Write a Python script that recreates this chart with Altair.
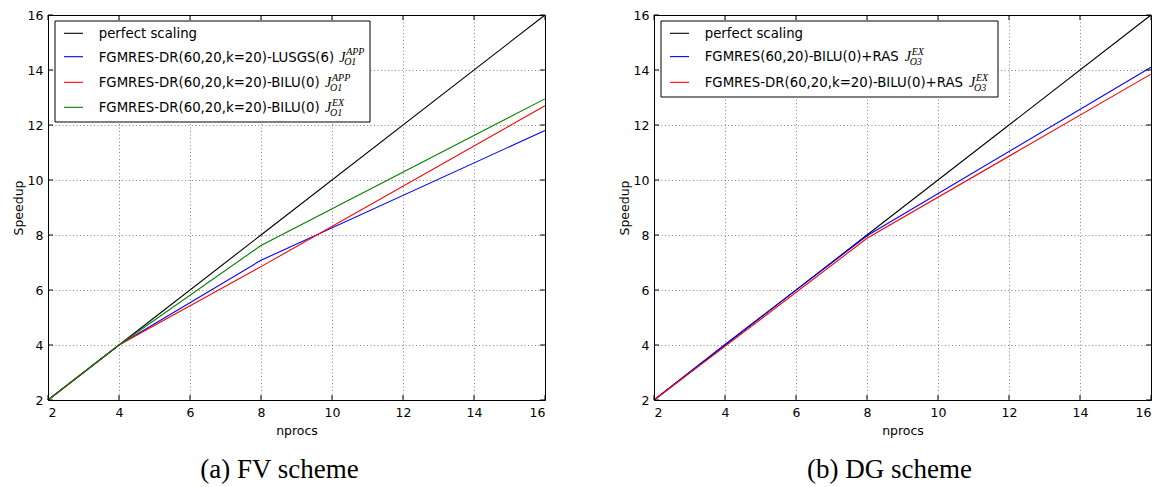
import altair as alt
import pandas as pd

# ---------------- data ----------------
nprocs = [2, 4, 8, 16]
ticks = [2, 4, 6, 8, 10, 12, 14, 16]

fv_names = ["fv perfect", "fv lusgs app", "fv bilu app", "fv bilu ex"]
fv_perfect = [2, 4, 8, 16]
fv_lusgs_app = [2, 4.0, 7.08, 11.8]
fv_bilu_app = [2, 4.0, 6.85, 12.7]
fv_bilu_ex = [2, 4.0, 7.62, 12.95]
fv_colors = ["#000000", "#0000ff", "#ff0000", "#008000"]
fv_labels = ["perfect scaling",
             "FGMRES-DR(60,20,k=20)-LUSGS(6)",
             "FGMRES-DR(60,20,k=20)-BILU(0)",
             "FGMRES-DR(60,20,k=20)-BILU(0)"]
fv_sup = ["", "APP", "APP", "EX"]
fv_sub = ["", "O1", "O1", "O1"]

dg_names = ["dg perfect", "dg fgmres", "dg fgmresdr"]
dg_perfect = [2, 4, 8, 16]
dg_fgmres = [2, 4.02, 7.97, 14.1]
dg_fgmresdr = [2, 3.95, 7.88, 13.85]
dg_colors = ["#000000", "#0000ff", "#ff0000"]
dg_labels = ["perfect scaling",
             "FGMRES(60,20)-BILU(0)+RAS",
             "FGMRES-DR(60,20,k=20)-BILU(0)+RAS"]
dg_sup = ["", "EX", "EX"]
dg_sub = ["", "O3", "O3"]

W, H = 497, 385
FS = 13.3

CW = {' ': 0.318, '(': 0.390, ')': 0.390, '+': 0.838, ',': 0.318, '-': 0.361,
      '=': 0.838, 'A': 0.684, 'B': 0.686, 'D': 0.770, 'E': 0.632, 'F': 0.575,
      'G': 0.775, 'I': 0.295, 'L': 0.557, 'M': 0.863, 'R': 0.695, 'S': 0.635,
      'U': 0.732, 'k': 0.579}


def tw(s, fs):
    return sum(CW.get(c, 0.636) for c in s) * fs


def panel(names, series, colors, labels, sups, subs, box_w, box_h, rows, caption, cdx):
    recs = []
    for n, vals in zip(names, series):
        for x, y in zip(nprocs, vals):
            recs.append({"nprocs": x, "speedup": y, "series": n})
    df = pd.DataFrame(recs)
    xs = alt.Scale(domain=[2, 16], nice=False)
    ys = alt.Scale(domain=[2, 16], nice=False)
    xe = alt.X("nprocs:Q", scale=xs, title="nprocs",
               axis=alt.Axis(values=ticks, format="d"))
    ye = alt.Y("speedup:Q", scale=ys, title="Speedup",
               axis=alt.Axis(values=ticks, format="d"))
    lines = alt.Chart(df).mark_line(strokeWidth=1.1).encode(
        x=xe, y=ye,
        color=alt.Color("series:N", scale=alt.Scale(domain=names, range=colors),
                        legend=None),
        order=alt.Order("nprocs:Q"),
    )
    tdf = pd.DataFrame({"nprocs": ticks, "speedup": ticks})
    tick_layers = [
        alt.Chart(tdf).mark_rule(color="black", strokeWidth=1).encode(
            y=ye, x=alt.value(0), x2=alt.value(5)),
        alt.Chart(tdf).mark_rule(color="black", strokeWidth=1).encode(
            y=ye, x=alt.value(W - 5), x2=alt.value(W)),
        alt.Chart(tdf).mark_rule(color="black", strokeWidth=1).encode(
            x=xe, y=alt.value(0), y2=alt.value(5)),
        alt.Chart(tdf).mark_rule(color="black", strokeWidth=1).encode(
            x=xe, y=alt.value(H - 5), y2=alt.value(H)),
    ]
    one = pd.DataFrame({"k": [0]})
    leg = [alt.Chart(one).mark_rect(fill="white", stroke="black", strokeWidth=1).encode(
        x=alt.value(7), x2=alt.value(7 + box_w), y=alt.value(6), y2=alt.value(6 + box_h))]
    tx = 50.7
    for lab, col, sp, sb, ry in zip(labels, colors, sups, subs, rows):
        leg.append(alt.Chart(one).mark_rule(color=col, strokeWidth=1.1).encode(
            x=alt.value(16), x2=alt.value(35), y=alt.value(ry)))
        leg.append(alt.Chart(one).mark_text(
            text=lab, font="DejaVu Sans", fontSize=FS, align="left",
            baseline="alphabetic", color="black").encode(
            x=alt.value(tx), y=alt.value(ry + 4.8)))
        if sp:
            jx = tx + tw(lab + " ", FS)
            leg.append(alt.Chart(one).mark_text(
                text="J", font="Liberation Serif", fontSize=14, fontStyle="italic",
                align="left", baseline="alphabetic", color="black").encode(
                x=alt.value(jx), y=alt.value(ry + 4.8)))
            leg.append(alt.Chart(one).mark_text(
                text=sp, font="Liberation Serif", fontSize=10, fontStyle="italic",
                align="left", baseline="alphabetic", color="black").encode(
                x=alt.value(jx + 7), y=alt.value(ry - 1.5)))
            leg.append(alt.Chart(one).mark_text(
                text=sb, font="Liberation Serif", fontSize=10, fontStyle="italic",
                align="left", baseline="alphabetic", color="black").encode(
                x=alt.value(jx + 5), y=alt.value(ry + 8.5)))
    return alt.layer(lines, *tick_layers, *leg).properties(
        width=W, height=H,
        title=alt.TitleParams(text=caption, orient="bottom", font="Liberation Serif",
                              fontSize=27, fontWeight="normal", color="black",
                              offset=20, anchor="middle", dx=cdx))


left = panel(fv_names, [fv_perfect, fv_lusgs_app, fv_bilu_app, fv_bilu_ex], fv_colors,
             fv_labels, fv_sup, fv_sub, 315, 101, [18.3, 41.7, 67.3, 92.3],
             "(a) FV scheme", -17)
right = panel(dg_names, [dg_perfect, dg_fgmres, dg_fgmresdr], dg_colors,
              dg_labels, dg_sup, dg_sub, 337, 76, [18.3, 41.6, 67.3],
              "(b) DG scheme", -13)

chart = alt.hconcat(left, right, spacing=69).resolve_scale(
    color="independent", x="independent", y="independent"
).properties(
    padding={"left": 3, "top": 0, "right": 0, "bottom": 0}
).configure_view(stroke="black", strokeWidth=1).configure_axis(
    grid=True, gridColor="black", gridDash=[1, 2.5], gridWidth=0.6, gridOpacity=0.8,
    domain=False, ticks=False, tickSize=0,
    labelFont="DejaVu Sans", labelFontSize=12.5, labelColor="black",
    titleFont="DejaVu Sans", titleFontSize=12.5, titleFontWeight="normal", titleColor="black",
).configure_axisX(labelPadding=6, titlePadding=6).configure_axisY(
    labelPadding=5, titlePadding=2)

chart.save("out.html", embed_options={"renderer": "svg", "actions": False})
